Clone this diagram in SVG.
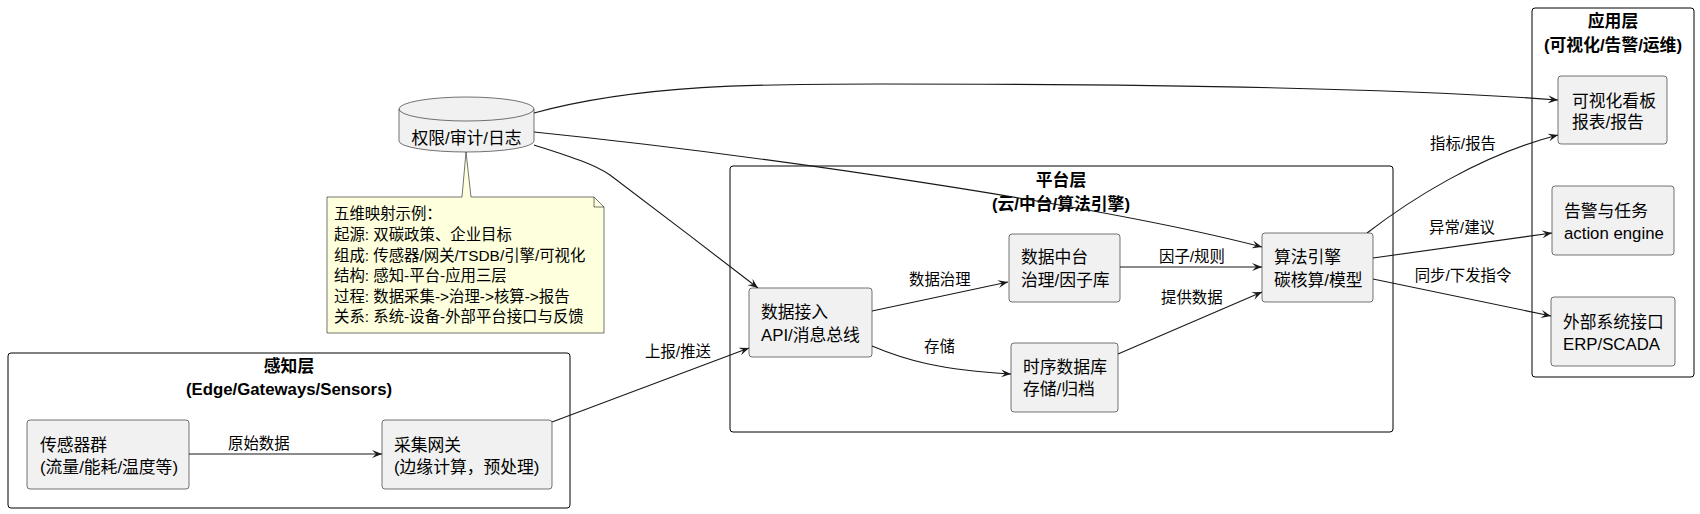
<svg xmlns="http://www.w3.org/2000/svg" width="1700" height="514" viewBox="0 0 1700 514">
<style>
  text { font-family: "Liberation Sans", "Noto Sans CJK SC", sans-serif; fill: #000; }
  .cl { fill: #ffffff; stroke: #000; stroke-width: 1; }
  .ct { font-size: 16.8px; font-weight: bold; text-anchor: middle; }
  .nd { fill: #F1F1F1; stroke: #181818; stroke-width: 0.6; }
  .nt { font-size: 16.8px; }
  .note { fill: #FEFFDD; stroke: #181818; stroke-width: 0.6; }
  .ntx { font-size: 15.4px; }
  .e { fill: none; stroke: #181818; stroke-width: 1.1; marker-end: url(#ah); }
  .lb { font-size: 15.4px; }
  .lbm { font-size: 15.4px; text-anchor: middle; }
</style>
<defs>
  <marker id="ah" viewBox="0 0 10 8" refX="10" refY="4" markerWidth="10" markerHeight="8" markerUnits="userSpaceOnUse" orient="auto">
    <path d="M0,0 L10,4 L0,8 L4,4 Z" fill="#181818"/>
  </marker>
</defs>
<rect width="1700" height="514" fill="#ffffff"/>

<g id="cluster-perception">
  <rect class="cl" x="8" y="353" width="562" height="155" rx="3"/>
  <text class="ct" x="289" y="372">感知层</text>
  <text class="ct" x="289" y="395">(Edge/Gateways/Sensors)</text>
</g>
<g id="cluster-platform">
  <rect class="cl" x="730" y="166" width="663" height="266" rx="3"/>
  <text class="ct" x="1061" y="186">平台层</text>
  <text class="ct" x="1061" y="210">(云/中台/算法引擎)</text>
</g>
<g id="cluster-app">
  <rect class="cl" x="1532" y="8" width="162" height="369" rx="3"/>
  <text class="ct" x="1613" y="27">应用层</text>
  <text class="ct" x="1613" y="51">(可视化/告警/运维)</text>
</g>

<g id="connectors">
  <path class="e" d="M189,454 L382,454"/>
  <text class="lb" x="228" y="449">原始数据</text>
  <path class="e" d="M552,422 L749,348"/>
  <text class="lbm" x="678" y="357">上报/推送</text>
  <path class="e" d="M534,145 C565,155 592,163 610,175 C650,205 715,255 758,288"/>
  <path class="e" d="M534,132 C760,155 1100,205 1262,247"/>
  <path class="e" d="M534,113 C640,84 760,84 880,84 C1150,84 1400,88 1558,100"/>
  <path class="e" d="M872,311 L1008,282"/>
  <text class="lb" x="909" y="285">数据治理</text>
  <path class="e" d="M872,346 C905,360 940,370 1011,374"/>
  <text class="lb" x="924" y="352">存储</text>
  <path class="e" d="M1120,267 L1262,267"/>
  <text class="lb" x="1159" y="262">因子/规则</text>
  <path class="e" d="M1118,354 L1262,292"/>
  <text class="lb" x="1161" y="303">提供数据</text>
  <path class="e" d="M1367,233 C1410,200 1480,155 1558,135"/>
  <text class="lbm" x="1463" y="149">指标/报告</text>
  <path class="e" d="M1373,258 L1552,233"/>
  <text class="lbm" x="1462" y="233">异常/建议</text>
  <path class="e" d="M1373,279 L1551,316"/>
  <text class="lbm" x="1463" y="281">同步/下发指令</text>
</g>

<g id="db-audit">
  <path class="nd" d="M399,109 A67.5,12 0 0 1 534,109 L534,141 A67.5,11 0 0 1 399,141 Z"/>
  <path d="M399,109 A67.5,12 0 0 0 534,109" fill="none" stroke="#181818" stroke-width="0.6"/>
  <text class="nt" x="466.5" y="144" text-anchor="middle">权限/审计/日志</text>
</g>

<g id="note">
  <path class="note" d="M327,197 L462,197 L466,152 L471,197 L594,197 L604,207 L604,333 L327,333 Z"/>
  <path d="M594,197 L594,207 L604,207" fill="none" stroke="#181818" stroke-width="0.6"/>
  <text class="ntx" x="334" y="219">五维映射示例：</text>
  <text class="ntx" x="334" y="240">起源: 双碳政策、企业目标</text>
  <text class="ntx" x="334" y="261">组成: 传感器/网关/TSDB/引擎/可视化</text>
  <text class="ntx" x="334" y="281">结构: 感知-平台-应用三层</text>
  <text class="ntx" x="334" y="302">过程: 数据采集-&gt;治理-&gt;核算-&gt;报告</text>
  <text class="ntx" x="334" y="322">关系: 系统-设备-外部平台接口与反馈</text>
</g>

<g id="node-sensors">
  <rect class="nd" x="27" y="420" width="162" height="69" rx="3"/>
  <text class="nt" x="40" y="451">传感器群</text>
  <text class="nt" x="40" y="473">(流量/能耗/温度等)</text>
</g>
<g id="node-gateway">
  <rect class="nd" x="382" y="420" width="170" height="69" rx="3"/>
  <text class="nt" x="394" y="451">采集网关</text>
  <text class="nt" x="394" y="473">(边缘计算，预处理)</text>
</g>
<g id="node-ingest">
  <rect class="nd" x="749" y="288" width="123" height="69" rx="3"/>
  <text class="nt" x="761" y="318">数据接入</text>
  <text class="nt" x="761" y="341">API/消息总线</text>
</g>
<g id="node-datamid">
  <rect class="nd" x="1009" y="234" width="111" height="68" rx="3"/>
  <text class="nt" x="1021" y="263">数据中台</text>
  <text class="nt" x="1021" y="286">治理/因子库</text>
</g>
<g id="node-tsdb">
  <rect class="nd" x="1011" y="343" width="107" height="69" rx="3"/>
  <text class="nt" x="1023" y="373">时序数据库</text>
  <text class="nt" x="1023" y="395">存储/归档</text>
</g>
<g id="node-engine">
  <rect class="nd" x="1262" y="233" width="111" height="69" rx="3"/>
  <text class="nt" x="1274" y="263">算法引擎</text>
  <text class="nt" x="1274" y="286">碳核算/模型</text>
</g>
<g id="node-dashboard">
  <rect class="nd" x="1558" y="76" width="109" height="68" rx="3"/>
  <text class="nt" x="1572" y="107">可视化看板</text>
  <text class="nt" x="1572" y="128">报表/报告</text>
</g>
<g id="node-alert">
  <rect class="nd" x="1552" y="186" width="122" height="69" rx="3"/>
  <text class="nt" x="1564" y="217">告警与任务</text>
  <text class="nt" x="1564" y="239">action engine</text>
</g>
<g id="node-external">
  <rect class="nd" x="1551" y="297" width="124" height="69" rx="3"/>
  <text class="nt" x="1563" y="328">外部系统接口</text>
  <text class="nt" x="1563" y="350">ERP/SCADA</text>
</g>
</svg>
